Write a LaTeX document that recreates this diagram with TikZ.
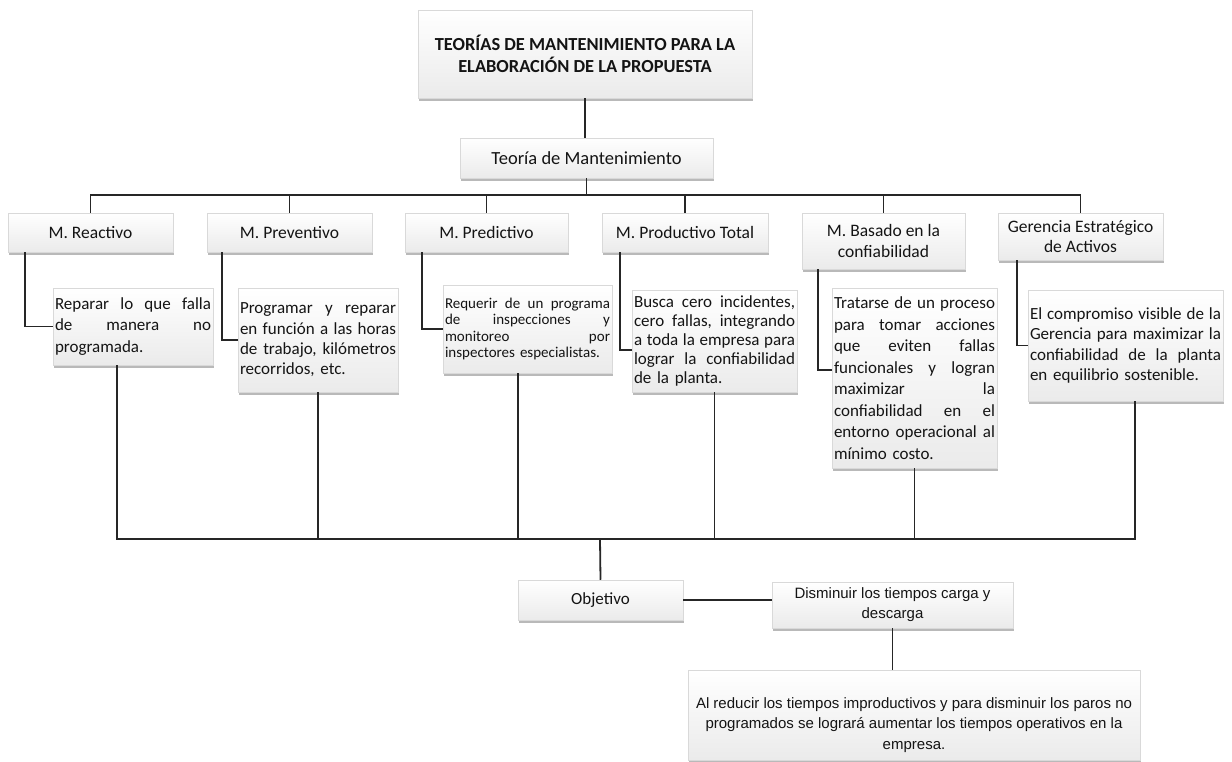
\documentclass[tikz,border=0pt]{standalone}
\usepackage{fontspec}
\setmainfont{Carlito}
\newfontfamily\arialf{Liberation Sans}
\usetikzlibrary{shadows}
% one justified line of a paragraph, spread over the full box width
\newcommand\jl[1]{{\frenchspacing
  \spaceskip=\fontdimen2\font plus 1fil\relax
  \xspaceskip=\fontdimen2\font plus 1fil\relax
  \makebox[\hsize][s]{#1}}\\}
\tikzset{
  box/.style={rectangle, draw=gray!30, line width=0.5pt,
    top color=white, bottom color=gray!16,
    drop shadow={shadow xshift=1.2pt, shadow yshift=-2.6pt, opacity=0.5, fill=black!55},
    inner sep=0pt, inner xsep=2pt, align=center, text=black!92},
  head/.style={box, font=\fontsize{18.4}{22}\selectfont\bfseries},
  theory/.style={box, font=\fontsize{18.5}{22}\selectfont},
  cat/.style={box, font=\fontsize{17.5}{20.5}\selectfont},
  desc/.style={box, align=left, font=\fontsize{17}{20.5}\selectfont},
  goal/.style={box, font=\fontsize{17}{20}\selectfont},
  plain/.style={box, font=\arialf\fontsize{15}{20}\selectfont},
  conn/.style={line width=1.8pt, draw=black!85}
}
\begin{document}
\begin{tikzpicture}[x=1pt,y=-1pt]
\useasboundingbox (0,0) rectangle (1232,762);

% title and root
\node[head, minimum width=334pt, minimum height=88pt] (title) at (585,54)
  {TEORÍAS DE MANTENIMIENTO PARA LA\\ELABORACIÓN DE LA PROPUESTA};
\node[theory, minimum width=253pt, minimum height=40pt] (teoria) at (586.5,158)
  {Teoría de Mantenimiento};

% maintenance categories
\node[cat, minimum width=165pt, minimum height=39pt] (reac) at (90.5,232.5) {M. Reactivo};
\node[cat, minimum width=165pt, minimum height=39pt] (prev) at (289.5,232.5) {M. Preventivo};
\node[cat, minimum width=163pt, minimum height=39pt] (pred) at (486.5,232.5) {M. Predictivo};
\node[cat, minimum width=166pt, minimum height=39pt] (prod) at (685,232.5) {M. Productivo Total};
\node[cat, minimum width=163pt, minimum height=56pt] (basa) at (883.5,241) {M. Basado en la\\confiabilidad};
\node[cat, minimum width=165pt, minimum height=47pt] (gere) at (1080.5,236.5) {Gerencia Estratégico\\de Activos};

% descriptions
\node[desc, text width=156pt, minimum height=77pt, font=\fontsize{17}{21.5}\selectfont] (reacD) at (133,326.5)
  {\jl{Reparar lo que falla}\jl{de manera no}programada.};
\node[desc, text width=156pt, minimum height=104pt, font=\fontsize{17}{20.3}\selectfont] (prevD) at (318,340)
  {\jl{Programar y reparar}\jl{en función a las horas}\jl{de trabajo, kilómetros}recorridos, etc.};
\node[desc, text width=165pt, minimum height=88pt, font=\fontsize{15}{16.5}\selectfont] (predD) at (527.5,329)
  {\jl{Requerir de un programa}\jl{de inspecciones y}\jl{monitoreo por}inspectores especialistas.};
\node[desc, text width=161pt, minimum height=102pt, font=\fontsize{17}{19.2}\selectfont] (prodD) at (714.5,341)
  {\jl{Busca cero incidentes,}\jl{cero fallas, integrando}\jl{a toda la empresa para}\jl{lograr la confiabilidad}de la planta.};
\node[desc, text width=161pt, minimum height=180pt, font=\fontsize{17}{21.5}\selectfont] (basaD) at (914.5,378)
  {\jl{Tratarse de un proceso}\jl{para tomar acciones}\jl{que eviten fallas}\jl{funcionales y logran}\jl{maximizar la}\jl{confiabilidad en el}\jl{entorno operacional al}mínimo costo.};
\node[desc, text width=191pt, minimum height=111pt, font=\fontsize{17}{20.6}\selectfont] (gereD) at (1125.5,345.5)
  {\jl{El compromiso visible de la}\jl{Gerencia para maximizar la}\jl{confiabilidad de la planta}en equilibrio sostenible.};

% objective branch
\node[goal, minimum width=165pt, minimum height=40pt] (obj) at (600.5,600) {Objetivo};
\node[plain, minimum width=241pt, minimum height=46pt] (dism) at (892.5,605)
  {Disminuir los tiempos carga y\\descarga};
\node[box, minimum width=452pt, minimum height=90pt] (fin) at (914,715) {};
\node[font=\arialf\fontsize{15}{20.5}\selectfont, align=center, text=black!92, inner sep=0pt] (fintxt) at (914,725)
  {Al reducir los tiempos improductivos y para disminuir los paros no\\programados se logrará aumentar los tiempos operativos en la\\empresa.};

% connectors: title to root, root to categories
\coordinate (busT) at (586,195);
\draw[conn] (title.south) -- (title.south |- teoria.north);
\draw[conn] (teoria.south) -- (teoria.south |- busT);
\draw[conn] (reac.north) |- (busT) -| (gere.north);
\foreach \n in {prev,pred,prod,basa}
  \draw[conn] (\n.north) -- (\n.north |- busT);

% categories to descriptions
\draw[conn] ([xshift=17pt]reac.south west) |- (reacD.west);
\draw[conn] ([xshift=15pt]prev.south west) |- (prevD.west);
\draw[conn] ([xshift=17pt]pred.south west) |- (predD.west);
\draw[conn] ([xshift=18pt]prod.south west) |- ([yshift=-9pt]prodD.west);
\draw[conn] ([xshift=16pt]basa.south west) |- ([yshift=8pt]basaD.west);
\draw[conn] ([xshift=19pt]gere.south west) |- (gereD.west);

% descriptions to the lower bus
\coordinate (busB) at (600,539);
\coordinate (dR) at ([xshift=-16pt]reacD.south);
\coordinate (dP) at ([xshift=-9.5pt]predD.south);
\coordinate (dG) at ([xshift=9.5pt]gereD.south);
\draw[conn] (dR) |- (busB) -| (dG);
\draw[conn] (prevD.south) -- (prevD.south |- busB);
\draw[conn] (dP) -- (dP |- busB);
\draw[conn] (prodD.south) -- (prodD.south |- busB);
\draw[conn] (basaD.south) -- (basaD.south |- busB);

% objective chain
\draw[conn] (busB) -- (obj.north);
\draw[conn] (obj.east) -- (obj.east -| dism.west);
\draw[conn] (dism.south) -- (dism.south |- fin.north);
\end{tikzpicture}
\end{document}
